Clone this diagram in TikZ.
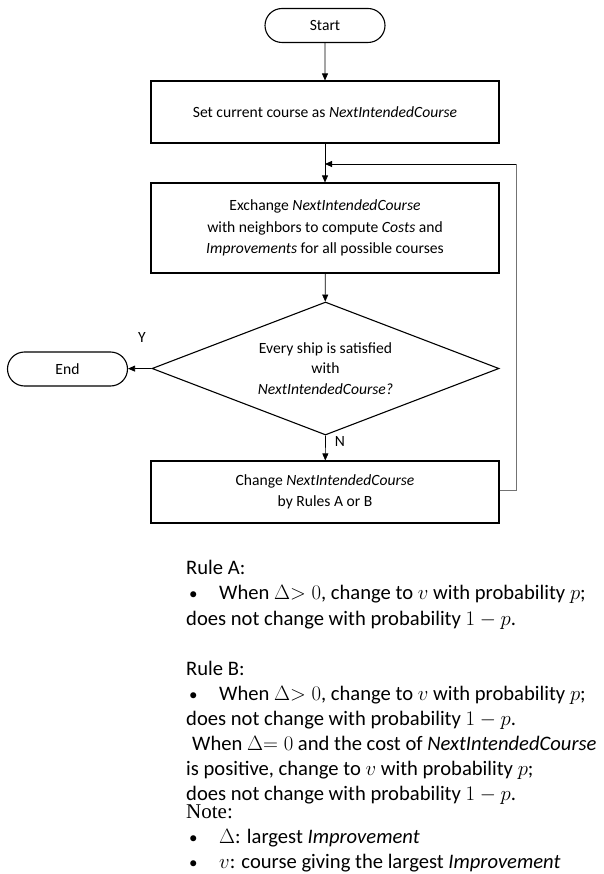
\documentclass[tikz,border=0pt]{standalone}
\usepackage{fontspec}
\setmainfont{Carlito}
\newfontfamily\notefont{Liberation Serif}
\usetikzlibrary{arrows.meta,shapes.geometric,shapes.misc}
\newcommand{\bul}{\makebox[30pt][l]{\fontsize{17}{17}\selectfont•}}
\begin{document}
\begin{tikzpicture}[x=1pt,y=-1pt,
  box/.style={draw,line width=1.1pt,minimum width=348pt,minimum height=62pt,inner sep=0pt,align=center,font=\fontsize{15.6}{21.5}\selectfont},
  term/.style={draw,line width=1.1pt,rounded rectangle,minimum width=120pt,minimum height=34pt,inner sep=0pt,font=\fontsize{15.6}{21}\selectfont},
  dec/.style={draw,line width=1.1pt,diamond,shape aspect=2.6,minimum width=347pt,minimum height=133pt,inner sep=0pt,align=center,font=\fontsize{15.6}{20.5}\selectfont},
  arr/.style={line width=0.7pt,-{Triangle[length=7pt,width=6pt]}},
  fb/.style={line width=0.9pt,draw=black!55},
  lbl/.style={font=\fontsize{15.6}{17}\selectfont,inner sep=0pt},
  rule/.style={anchor=base west,inner sep=0pt,font=\fontsize{20.6}{25}\selectfont},
  note/.style={anchor=base west,inner sep=0pt,font=\notefont\fontsize{21}{25}\selectfont},
]
\useasboundingbox (0,0) rectangle (604,874);
\node[term] (start) at (325,25.5) {Start};
\node[box] (b1) at (325,112) {Set current course as \textit{NextIntendedCourse}};
\node[box,minimum height=90pt] (b2) at (325,228) {Exchange \textit{NextIntendedCourse}\\ with neighbors to compute \textit{Costs} and\\ \textit{Improvements} for all possible courses};
\node[dec] (d) at (325.5,368.5) {Every ship is satisfied\\ with\\ \textit{NextIntendedCourse?}};
\node[term] (end) at (67.5,369) {End};
\node[box] (b3) at (325,492) {Change \textit{NextIntendedCourse}\\ by Rules A or B};
\coordinate (m) at (325,164);
\coordinate (fr) at (516,490);
\coordinate (ft) at (516,164);
\draw[arr] (start) -- (b1);
\draw[line width=0.7pt] (b1) -- (m);
\draw[arr] (m) -- (b2);
\draw[arr] (b2) -- (d);
\draw[arr] (d.south) -- (b3);
\draw[arr] (d.west) -- (end);
\draw[fb] (b3.east |- fr) -- (fr) -- (ft);
\draw[line width=0.9pt,-{Triangle[length=7pt,width=6pt]}] (ft) -- (m);
\node[lbl] (ly) at (142,337) {Y};
\node[lbl] (ln) at (340,441) {N};
% rules
\node[rule] (r1) at (186,574) {Rule A:};
\node[rule] (r2) at (189,599) {\bul When $\Delta{>}\;0$, change to $v$ with probability $p$;};
\node[rule] (r3) at (186,625) {does not change with probability $1-p$.};
\node[rule] (r4) at (186,675) {Rule B:};
\node[rule] (r5) at (189,700) {\bul When $\Delta{>}\;0$, change to $v$ with probability $p$;};
\node[rule] (r6) at (186,725) {does not change with probability $1-p$.};
\node[rule] (r7) at (192,750) {When $\Delta{=}\;0$ and the cost of \textit{NextIntendedCourse}};
\node[rule] (r8) at (186,775) {is positive, change to $v$ with probability $p$;};
\node[rule] (r9) at (186,800) {does not change with probability $1-p$.};
\node[note] (n1) at (186,818) {Note:};
\node[rule] (n2) at (189,843) {\bul $\Delta$: largest \textit{Improvement}};
\node[rule] (n3) at (189,868) {\bul $v$: course giving the largest \textit{Improvement}};
\end{tikzpicture}
\end{document}
